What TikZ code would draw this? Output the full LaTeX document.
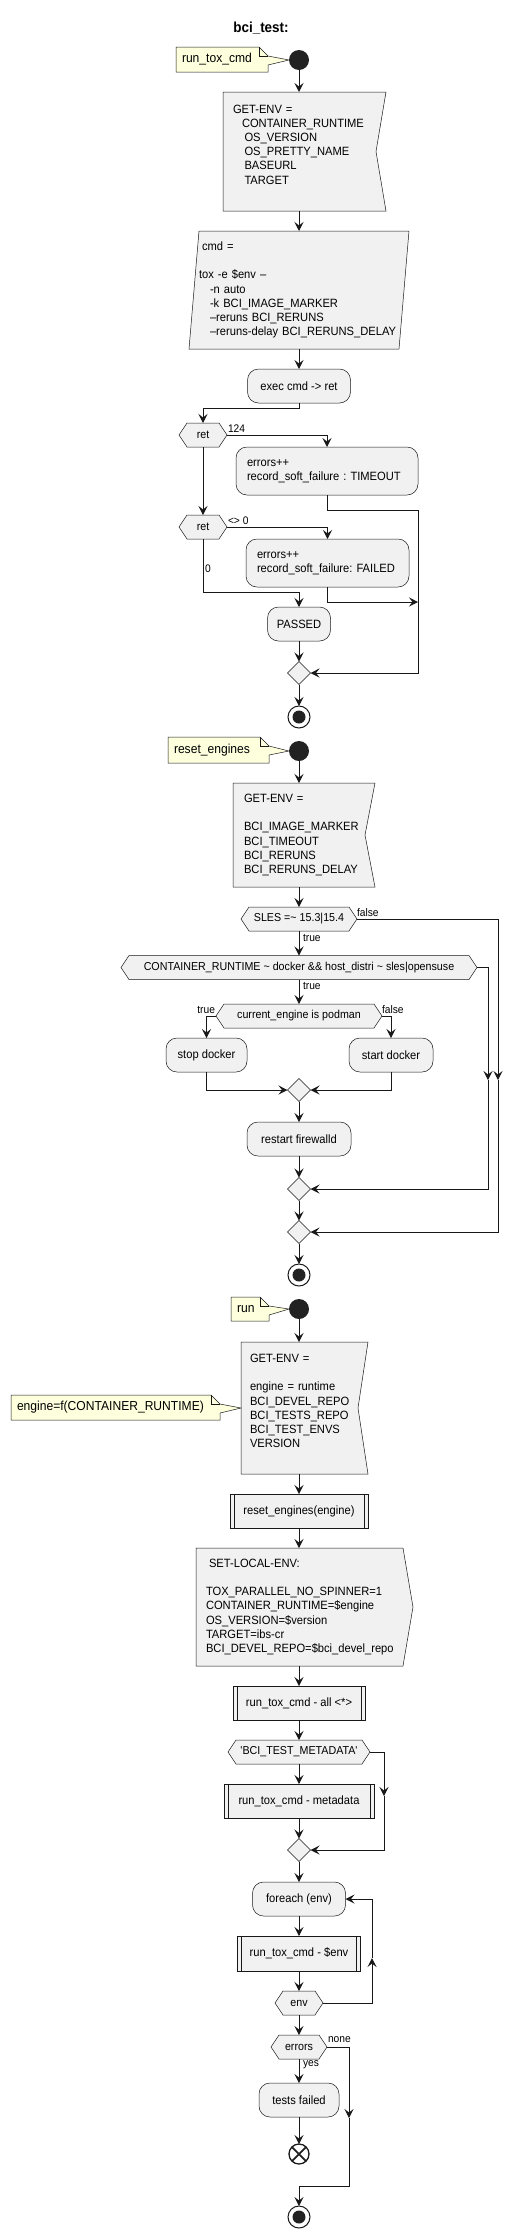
\documentclass[tikz,border=0pt]{standalone}
\usepackage{fontspec}
\setmainfont[FakeStretch=0.93]{Liberation Sans}
\usetikzlibrary{arrows.meta,shapes.geometric}
\pgfdeclarelayer{bg}
\pgfsetlayers{bg,main}
\frenchspacing
\definecolor{boxC}{HTML}{F1F1F1}
\definecolor{lineC}{HTML}{181818}
\definecolor{noteC}{HTML}{FEFFDD}
\definecolor{dotC}{HTML}{222222}
\newcommand\myfa{\fontsize{12}{14.2}\selectfont}
\newcommand\myfh{\fontsize{11.5}{14}\selectfont}
\newcommand\myfl{\fontsize{11}{13}\selectfont}
\newcommand\myfn{\fontsize{13}{15}\selectfont}
\newcommand\hexbg[1]{\begin{pgfonlayer}{bg}\path[bgshape] (#1.west) -- ([xshift=8pt]#1.north west) -- ([xshift=-8pt]#1.north east) -- (#1.east) -- ([xshift=-8pt]#1.south east) -- ([xshift=8pt]#1.south west) -- cycle;\end{pgfonlayer}}
\newcommand\getenvbg[1]{\begin{pgfonlayer}{bg}\path[bgshape] (#1.north west) -- (#1.north east) -- ([xshift=-10pt]#1.east) -- (#1.south east) -- (#1.south west) -- cycle;\end{pgfonlayer}}
\newcommand\parabg[1]{\begin{pgfonlayer}{bg}\path[bgshape] ([xshift=10pt]#1.north west) -- (#1.north east) -- ([xshift=-10pt]#1.south east) -- (#1.south west) -- cycle;\end{pgfonlayer}}
\newcommand\sendbg[1]{\begin{pgfonlayer}{bg}\path[bgshape] (#1.north west) -- ([xshift=-10pt]#1.north east) -- (#1.east) -- ([xshift=-10pt]#1.south east) -- (#1.south west) -- cycle;\end{pgfonlayer}}
\newcommand\subbars[1]{\draw[draw=lineC,line width=0.5pt] ([xshift=4pt]#1.north west) -- ([xshift=4pt]#1.south west) ([xshift=-4pt]#1.north east) -- ([xshift=-4pt]#1.south east);}
\newcommand\notebg[2]{\begin{pgfonlayer}{bg}\path[draw=lineC,line width=0.5pt,fill=noteC] (#1.north west) -- ([xshift=-9pt]#1.north east) -- ([yshift=-9pt]#1.north east) -- (#2) -- ([yshift=-18pt]#1.north east) -- (#1.south east) -- (#1.south west) -- cycle;
\draw[draw=lineC,line width=0.5pt] ([xshift=-9pt]#1.north east) -- ([xshift=-9pt,yshift=-9pt]#1.north east) -- ([yshift=-9pt]#1.north east);\end{pgfonlayer}}
\begin{document}
\begin{tikzpicture}[x=1pt,y=-1pt,
  every node/.style={inner sep=0pt,outer sep=0pt},
  conn/.style={draw=lineC,line width=1pt},
  arr/.style={conn,-{Stealth[length=9pt,width=9pt,inset=3.5pt]}},
  bgshape/.style={draw=lineC,line width=0.5pt,fill=boxC},
  act/.style={draw=lineC,line width=0.5pt,fill=boxC,rounded corners=11pt,font=\myfa,align=center},
  txtbox/.style={font=\myfa,align=left},
  hexnode/.style={font=\myfh,align=center,minimum height=24pt},
  subbox/.style={draw=lineC,line width=0.5pt,fill=boxC,font=\myfa,minimum height=34pt},
  merge/.style={diamond,draw=lineC,line width=0.5pt,fill=boxC,minimum width=23pt,minimum height=23pt,aspect=1},
  startdot/.style={circle,fill=dotC,minimum size=20pt},
  enddot/.style={circle,draw=lineC,line width=1pt,fill=white,minimum size=22pt,path picture={\fill[dotC] (path picture bounding box.center) circle (6.5pt);}},
  lbl/.style={font=\myfl},
  notebox/.style={font=\myfn,align=left,inner xsep=6pt,minimum height=25pt}]
\begin{pgfonlayer}{bg}\fill[white] (0,0) rectangle (529,2238);\end{pgfonlayer}
\useasboundingbox (0,0) rectangle (529,2238);

% ---------- run_tox_cmd ----------
\node[font=\fontsize{14.5}{16}\selectfont\bfseries] (title) at (261,28) {bci\_test:};
\node[startdot] (s1) at (299,60) {};
\node[notebox,minimum width=92pt,text width=80pt] (n1) at (222,59.5) {run\_tox\_cmd};
\notebg{n1}{s1.west}
\node[txtbox,minimum width=163pt,minimum height=119pt,text width=143pt,inner xsep=10pt] (env1) at (304.5,151.5)
 {GET-ENV =\\ \hspace*{9pt}CONTAINER\_RUNTIME\\ \hspace*{11.5pt}OS\_VERSION\\ \hspace*{11.5pt}OS\_PRETTY\_NAME\\ \hspace*{11.5pt}BASEURL\\ \hspace*{11.5pt}TARGET\\ \mbox{}};
\getenvbg{env1}
\node[txtbox,minimum width=220pt,minimum height=118pt,text width=200pt,inner xsep=10pt] (cmd) at (299,290)
 {\hspace*{3pt}cmd =\\[14.2pt]tox -e \$env --\\ \hspace*{11pt}-n auto\\ \hspace*{11pt}-k BCI\_IMAGE\_MARKER\\ \hspace*{11pt}--reruns BCI\_RERUNS\\ \hspace*{11pt}--reruns-delay BCI\_RERUNS\_DELAY};
\parabg{cmd}
\node[act,minimum width=103pt,minimum height=34pt] (exec) at (299,386) {exec cmd -> ret};
\node[hexnode,minimum width=48pt] (ret1) at (203,435) {ret};
\hexbg{ret1}
\node[act,align=left,minimum width=182pt,minimum height=48pt,text width=160pt,inner xsep=11pt] (err1) at (327,471) {errors++\\record\_soft\_failure : TIMEOUT};
\node[hexnode,minimum width=48pt] (ret2) at (203,527) {ret};
\hexbg{ret2}
\node[act,align=left,minimum width=163pt,minimum height=48pt,text width=141pt,inner xsep=11pt] (err2) at (327.5,563) {errors++\\record\_soft\_failure: FAILED};
\node[act,minimum width=63pt,minimum height=34pt] (passed) at (299,624) {PASSED};
\node[merge] (m1) at (299,673) {};
\node[enddot] (e1) at (299,717) {};
\coordinate (r1) at (418,510);
\coordinate (r2) at (418,602);
\coordinate (j1) at (203,592);
\draw[arr] (s1.south) -- (s1.south |- env1.north);
\draw[arr] (env1.south -| cmd) -- (cmd.north);
\draw[arr] (cmd.south) -- (exec.north);
\draw[arr] (exec.south) -- ++(0,5) -| (ret1.north);
\draw[arr] (ret1.east) -| (err1.north);
\draw[arr] (ret1.south) -- (ret2.north);
\draw[arr] (err1.south) |- (r1) |- (m1.east);
\draw[arr] (ret2.east) -| (err2.north);
\draw[arr] (err2.south) |- (r2);
\draw[arr] (ret2.south) -- (j1) -| (passed.north);
\draw[arr] (passed) -- (m1);
\draw[arr] (m1) -- (e1);
\node[lbl,anchor=west] (l124) at (228,429) {124};
\node[lbl,anchor=west] (lne) at (228,521) {<> 0};
\node[lbl,anchor=west] (lz) at (205,569) {0};

% ---------- reset_engines ----------
\node[startdot] (s2) at (299,751) {};
\node[notebox,minimum width=101pt,text width=89pt,minimum height=26pt] (n2) at (218.5,750) {reset\_engines};
\notebg{n2}{s2.west}
\node[txtbox,minimum width=142pt,minimum height=104pt,text width=120pt,inner xsep=11pt] (env3) at (304,835)
 {GET-ENV =\\[14.2pt]BCI\_IMAGE\_MARKER\\BCI\_TIMEOUT\\BCI\_RERUNS\\BCI\_RERUNS\_DELAY};
\getenvbg{env3}
\node[hexnode,minimum width=116pt] (sles) at (299,919) {SLES =\textasciitilde{} 15.3|15.4};
\hexbg{sles}
\node[hexnode,minimum width=356pt] (cont) at (299,967.5) {CONTAINER\_RUNTIME \textasciitilde{} docker \&\& host\_distri \textasciitilde{} sles|opensuse};
\hexbg{cont}
\node[hexnode,minimum width=166pt] (cur) at (299,1016) {current\_engine is podman};
\hexbg{cur}
\node[act,minimum width=81pt,minimum height=34pt] (stop) at (206.5,1055) {stop docker};
\node[act,minimum width=84pt,minimum height=34pt] (startd) at (391,1055) {start docker};
\node[merge] (m2) at (299,1090) {};
\node[act,minimum width=104pt,minimum height=34pt] (restart) at (299,1139) {restart firewalld};
\node[merge] (m3) at (299,1189) {};
\node[merge] (m4) at (299,1232) {};
\node[enddot] (e2) at (299,1275) {};
\coordinate (cf1) at (488,1080);
\coordinate (sf1) at (498,1080);
\draw[arr] (s2.south) -- (s2.south |- env3.north);
\draw[arr] (env3.south -| sles) -- (sles.north);
\draw[arr] (sles.south) -- (cont.north);
\draw[arr] (cont.south) -- (cur.north);
\draw[arr] (cur.west) -| (stop.north);
\draw[arr] (cur.east) -| (startd.north);
\draw[arr] (stop.south) |- (m2.west);
\draw[arr] (startd.south) |- (m2.east);
\draw[arr] (m2) -- (restart);
\draw[arr] (restart) -- (m3);
\draw[arr] (m3) -- (m4);
\draw[arr] (m4) -- (e2);
\draw[arr] (cont.east) -| (cf1);
\draw[arr] (cf1) |- (m3.east);
\draw[arr] (sles.east) -| (sf1);
\draw[arr] (sf1) |- (m4.east);
\node[lbl,anchor=west] (lf1) at (357,913) {false};
\node[lbl,anchor=west] (lt1) at (303,938) {true};
\node[lbl,anchor=west] (lt2) at (303,986) {true};
\node[lbl,anchor=east] (lt3) at (215,1010) {true};
\node[lbl,anchor=west] (lf2) at (382,1010) {false};

% ---------- run ----------
\node[startdot] (s3) at (299,1309) {};
\node[notebox,minimum width=38pt,text width=26pt,minimum height=24pt] (n3) at (250,1309) {run};
\notebg{n3}{s3.west}
\node[txtbox,minimum width=127pt,minimum height=132pt,text width=109pt,inner xsep=9pt] (env4) at (304.5,1408)
 {GET-ENV =\\[14.2pt]engine = runtime\\BCI\_DEVEL\_REPO\\BCI\_TESTS\_REPO\\BCI\_TEST\_ENVS\\VERSION\\ \mbox{}};
\getenvbg{env4}
\node[notebox,minimum width=209pt,text width=197pt,inner xsep=6pt] (n4) at (115.5,1407.5) {engine=f(CONTAINER\_RUNTIME)};
\notebg{n4}{env4.west}
\node[subbox,minimum width=138pt] (reset) at (299,1511) {reset\_engines(engine)};
\subbars{reset}
\node[txtbox,minimum width=217pt,minimum height=118pt,text width=197pt,inner xsep=10pt] (setl) at (304.5,1607)
 {\hspace*{3pt}SET-LOCAL-ENV:\\[14.2pt]TOX\_PARALLEL\_NO\_SPINNER=1\\CONTAINER\_RUNTIME=\$engine\\OS\_VERSION=\$version\\TARGET=ibs-cr\\BCI\_DEVEL\_REPO=\$bci\_devel\_repo};
\sendbg{setl}
\node[subbox,minimum width=132pt] (runall) at (299,1703) {run\_tox\_cmd - all <*>};
\subbars{runall}
\node[hexnode,minimum width=142pt] (bci) at (299,1752) {\textquotesingle BCI\_TEST\_METADATA\textquotesingle};
\hexbg{bci}
\node[subbox,minimum width=150pt] (meta) at (299,1801) {run\_tox\_cmd - metadata};
\subbars{meta}
\node[merge] (m5) at (299,1850) {};
\node[act,minimum width=93pt,minimum height=34pt] (fe) at (299,1899) {foreach (env)};
\node[subbox,minimum width=123pt,minimum height=35pt] (runenv) at (299,1953.5) {run\_tox\_cmd - \$env};
\subbars{runenv}
\node[hexnode,minimum width=48pt] (envh) at (299,2003) {env};
\hexbg{envh}
\node[hexnode,minimum width=56pt] (errh) at (299,2047) {errors};
\hexbg{errh}
\node[act,minimum width=80pt,minimum height=34pt] (failed) at (299,2100) {tests failed};
\node[circle,draw=lineC,line width=1.3pt,fill=white,minimum size=20pt,
  path picture={\draw[dotC,line width=1.8pt] (path picture bounding box.north west) -- (path picture bounding box.south east) (path picture bounding box.north east) -- (path picture bounding box.south west);}] (xend) at (299,2154) {};
\node[enddot] (e3) at (299,2217) {};
\coordinate (bf) at (384,1796);
\coordinate (lp) at (372,1958);
\coordinate (nf) at (349,2118);
\coordinate (nj) at (349,2186);
\draw[arr] (s3.south) -- (s3.south |- env4.north);
\draw[arr] (env4.south -| reset) -- (reset.north);
\draw[arr] (reset.south) -- (reset.south |- setl.north);
\draw[arr] (setl.south -| runall) -- (runall.north);
\draw[arr] (runall) -- (bci);
\draw[arr] (bci) -- (meta);
\draw[arr] (meta) -- (m5);
\draw[arr] (bci.east) -| (bf);
\draw[arr] (bf) |- (m5.east);
\draw[arr] (m5) -- (fe);
\draw[arr] (fe) -- (runenv);
\draw[arr] (runenv) -- (envh);
\draw[arr] (envh.east) -| (lp);
\draw[arr] (lp) |- (fe.east);
\draw[arr] (envh) -- (errh);
\draw[arr] (errh) -- (failed);
\draw[arr] (failed) -- (xend);
\draw[arr] (errh.east) -| (nf);
\draw[arr] (nf) -- (nj) -| (e3.north);
\node[lbl,anchor=west] (lnone) at (328,2040) {none};
\node[lbl,anchor=west] (lyes) at (303,2065) {yes};
\end{tikzpicture}
\end{document}
